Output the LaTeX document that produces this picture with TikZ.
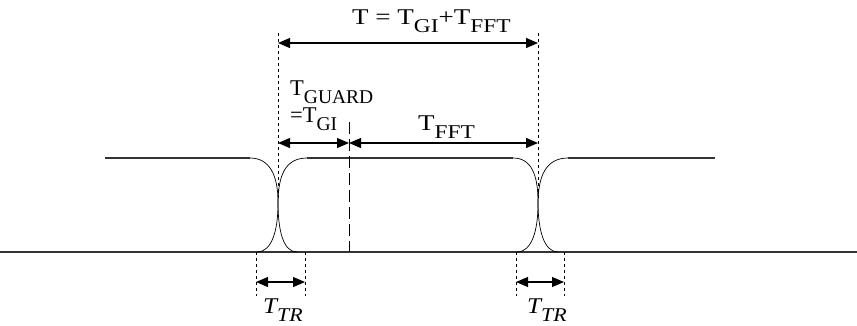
\documentclass[tikz,border=0pt]{standalone}
\usepackage{fontspec}
\setmainfont{Liberation Serif}
\usetikzlibrary{arrows.meta}
\newcommand{\mysub}[1]{\raisebox{-0.85ex}{\fontsize{19.5}{20}\selectfont #1}}
\newcommand{\wide}[1]{\scalebox{1.2}[1]{#1}}
\begin{document}
\begin{tikzpicture}[x=1pt,y=-1pt,
  flat/.style={line width=1.4pt, draw=black!80},
  edge/.style={line width=0.7pt},
  dimarrow/.style={line width=1.1pt, {Triangle[length=12pt,width=10pt]}-{Triangle[length=12pt,width=10pt]}},
  guide/.style={line width=0.8pt, dash pattern=on 3pt off 3pt},
  longdash/.style={line width=0.9pt, dash pattern=on 12pt off 5pt},
  lbl/.style={inner sep=0pt, font=\fontsize{22.5}{25}\selectfont}]
\useasboundingbox (0,0) rectangle (857,325);
% baseline and flat levels
\coordinate (B0) at (0,252); \coordinate (B1) at (857,252);
\coordinate (L0) at (105,158); \coordinate (L1) at (250,158);
\coordinate (M0) at (307,158); \coordinate (M1) at (513,158);
\coordinate (R0) at (568,158); \coordinate (R1) at (715,158);
\draw[flat] (B0) -- (B1);
\draw[flat] (L0) -- (L1);
\draw[flat] (M0) -- (M1);
\draw[flat] (R0) -- (R1);
% transitions
\draw[edge] (L1) .. controls (270,158) and (278,176) .. (278,202) .. controls (278,230) and (283,252) .. (297,252);
\draw[edge] (257,252) .. controls (272,252) and (278,230) .. (278,204) .. controls (278,176) and (285,158) .. (M0);
\draw[edge] (M1) .. controls (532,158) and (538,176) .. (538,202) .. controls (538,230) and (544,252) .. (558,252);
\draw[edge] (517,252) .. controls (532,252) and (538,230) .. (538,204) .. controls (538,176) and (546,158) .. (R0);
% guide lines
\coordinate (g1t) at (278,33); \coordinate (g1b) at (278,200);
\coordinate (g2t) at (538,33); \coordinate (g2b) at (538,200);
\coordinate (g3t) at (349,122); \coordinate (g3b) at (349,252);
\draw[guide] (g1t) -- (g1b);
\draw[guide] (g2t) -- (g2b);
\draw[longdash] (g3t) -- (g3b);
\coordinate (t1a) at (256,252); \coordinate (t1ab) at (256,296);
\coordinate (t1b) at (305,252); \coordinate (t1bb) at (305,296);
\coordinate (t2a) at (516,252); \coordinate (t2ab) at (516,296);
\coordinate (t2b) at (564,252); \coordinate (t2bb) at (564,296);
\draw[guide] (t1a) -- (t1ab);
\draw[guide] (t1b) -- (t1bb);
\draw[guide] (t2a) -- (t2ab);
\draw[guide] (t2b) -- (t2bb);
% dimension arrows
\coordinate (a1) at (278,43); \coordinate (a2) at (538,43);
\coordinate (b1) at (278,143); \coordinate (b2) at (349,143); \coordinate (b3) at (538,143);
\coordinate (c1) at (256,282); \coordinate (c2) at (305,282);
\coordinate (d1) at (516,282); \coordinate (d2) at (564,282);
\draw[dimarrow] (a1) -- (a2);
\draw[dimarrow] (b1) -- (b2);
\draw[dimarrow] (b2) -- (b3);
\draw[dimarrow] (c1) -- (c2);
\draw[dimarrow] (d1) -- (d2);
% labels
\node[lbl, anchor=base west] (tlbl) at (352,24) {\wide{T = T\mysub{GI}+T\mysub{FFT}}};
\node[lbl, anchor=base west] (guard) at (290,95) {T\mysub{GUARD}};
\node[lbl, anchor=base west] (gi) at (290,122) {=T\mysub{GI}};
\node[lbl, anchor=base west] (fft) at (418,130) {\wide{T\mysub{FFT}}};
\node[lbl, anchor=base west] (tr1) at (263,313) {\scalebox{1.12}[1]{\itshape T\mysub{\itshape TR}}};
\node[lbl, anchor=base west] (tr2) at (527,313) {\scalebox{1.12}[1]{\itshape T\mysub{\itshape TR}}};
\end{tikzpicture}
\end{document}
